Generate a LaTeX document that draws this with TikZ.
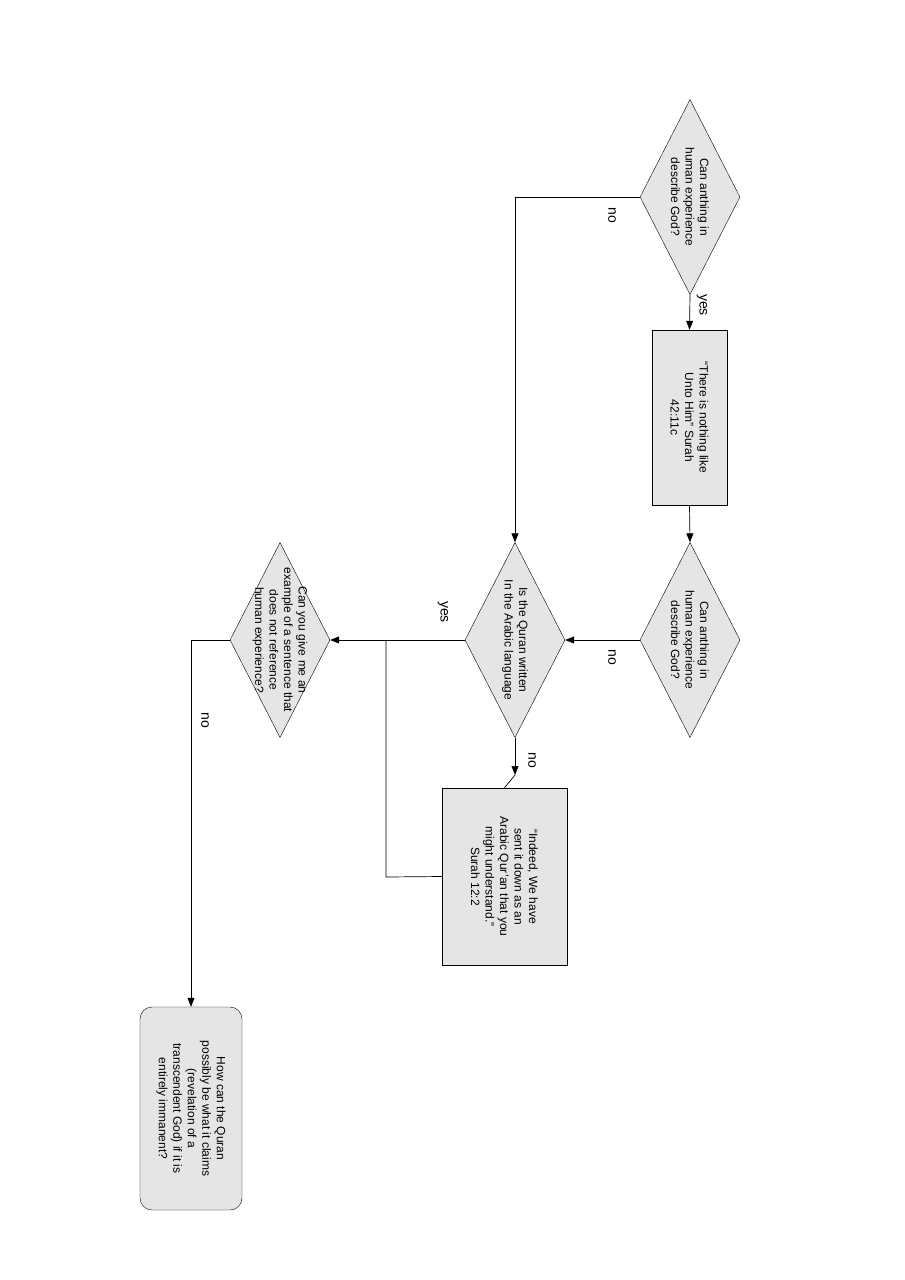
\documentclass[tikz,border=0pt]{standalone}
\usepackage{fontspec}
\setmainfont{Liberation Sans}
\usetikzlibrary{shapes.geometric,arrows.meta}
\begin{document}
\begin{tikzpicture}[x=1pt,y=-1pt,
  dia/.style={diamond,draw,fill=black!10,minimum width=100pt,minimum height=195pt,shape aspect=0.513,inner sep=0pt},
  box/.style={draw,fill=black!10,inner sep=0pt},
  txt/.style={rotate=-90,align=center,font=\fontsize{12}{14.5}\selectfont},
  lbl/.style={rotate=-90,font=\fontsize{14}{16}\selectfont},
  arr/.style={-{Triangle[length=9pt,width=7pt]},line width=0.7pt},
  ln/.style={line width=0.7pt}]
\useasboundingbox (0,0) rectangle (905,1280);
\node[dia] (d1) at (690,197) {};
\node[txt] at (d1) {Can anthing in\\human experience\\describe God?};
\node[box,minimum width=75pt,minimum height=175pt] (b1) at (689.5,417.5) {};
\node[txt] at (b1) {“There is nothing like\\Unto Him” Surah\\42:11c};
\node[dia] (d2) at (690,640) {};
\node[txt] at (d2) {Can anthing in\\human experience\\describe God?};
\node[dia] (d3) at (515,640) {};
\node[txt] at (d3) {Is the Quran written\\In the Arabic language};
\node[box,minimum width=125pt,minimum height=177pt] (b2) at (504.5,876.5) {};
\node[txt] at (b2) {“Indeed, We have\\sent it down as an\\Arabic Qur’an that you\\might understand.”\\Surah 12:2};
\node[dia] (d4) at (280,640) {};
\node[txt] at (d4) {Can you give me an\\example of a sentence that\\does not reference\\human experience?};
\node[box,rounded corners=12pt,minimum width=102pt,minimum height=203pt] (r) at (191,1108.5) {};
\node[txt] at (r) {How can the Quran\\possibly be what it claims\\(revelation of a\\transcendent God) if it is\\entirely immanent?};
\coordinate (c1) at (515,197);
\coordinate (j) at (386,640);
\coordinate (c2) at (386,877);
\coordinate (c3) at (191,640);
\draw[arr] (d1.west) -- (c1) -- (d3.north);
\draw[arr] (d1.south) -- (b1.north);
\draw[arr] (b1.south) -- (d2.north);
\draw[arr] (d2.west) -- (d3.east);
\draw[arr] (d3.west) -- (d4.east);
\draw[arr] (d3.south) -- (515,775);
\draw[ln] (515,775) -- (b2.north);
\draw[ln] (b2.west) -- (c2) -- (j);
\draw[arr] (d4.west) -- (c3) -- (r.north);
\node[lbl] at (612,215) {no};
\node[lbl] at (702,305) {yes};
\node[lbl] at (612,657) {no};
\node[lbl] at (443,612) {yes};
\node[lbl] at (532,760) {no};
\node[lbl] at (205,720) {no};
\end{tikzpicture}
\end{document}
